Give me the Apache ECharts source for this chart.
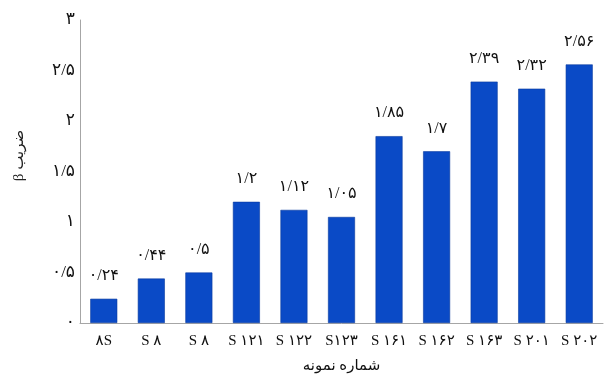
<!DOCTYPE html>
<html>
<head>
<meta charset="utf-8">
<script src="https://cdn.jsdelivr.net/npm/echarts@6/dist/echarts.min.js"></script>
<style>
  html, body { margin: 0; padding: 0; background: #fff; }
  #chart { width: 616px; height: 378px; }
</style>
</head>
<body>
<div id="chart"></div>
<script>
// Sample identifiers along the horizontal axis
const categories = ['۸S', 'S ۸', 'S ۸', 'S ۱۲۱', 'S ۱۲۲', 'S۱۲۳', 'S ۱۶۱', 'S ۱۶۲', 'S ۱۶۳', 'S ۲۰۱', 'S ۲۰۲'];
// β coefficient for each sample
const betaValues = [0.24, 0.44, 0.5, 1.2, 1.12, 1.05, 1.85, 1.7, 2.39, 2.32, 2.56];
// Value axis ticks
const yTicks = [0, 0.5, 1, 1.5, 2, 2.5, 3];

const xAxisTitle = 'شماره نمونه';
const yAxisTitle = 'β ضریب';

const FONT = "'Liberation Serif', 'DejaVu Sans', serif";

// Persian digits with "/" as the decimal separator
function toPersian(v) {
  const digits = '۰۱۲۳۴۵۶۷۸۹';
  return String(v).replace('.', '/').replace(/[0-9]/g, d => digits[+d]);
}

const chart = echarts.init(document.getElementById('chart'), null, { renderer: 'canvas' });
chart.setOption({
  animation: false,
  backgroundColor: '#ffffff',
  grid: { left: 80, right: 13, top: 20, bottom: 55, containLabel: false, outerBoundsMode: 'none' },
  xAxis: {
    type: 'category',
    data: categories,
    name: xAxisTitle,
    nameLocation: 'middle',
    nameGap: 36,
    nameTextStyle: { fontFamily: FONT, fontSize: 15, color: '#111' },
    axisLine: { lineStyle: { color: '#a6a6a6', width: 1 } },
    axisTick: { show: false },
    axisLabel: { fontFamily: FONT, fontSize: 15, color: '#111', margin: 11, interval: 0 }
  },
  yAxis: {
    type: 'value',
    min: yTicks[0],
    max: yTicks[yTicks.length - 1],
    interval: 0.5,
    name: yAxisTitle,
    nameLocation: 'middle',
    nameGap: 53,
    nameRotate: 90,
    nameTextStyle: { fontFamily: FONT, fontSize: 15, color: '#222', padding: [0, 0, 0, 32] },
    axisLine: { show: true, lineStyle: { color: '#a6a6a6', width: 1 } },
    axisTick: { show: false },
    splitLine: { show: false },
    axisLabel: {
      fontFamily: FONT, fontSize: 17, color: '#111', margin: 5,
      formatter: v => toPersian(v)
    }
  },
  series: [{
    type: 'bar',
    data: betaValues,
    barWidth: 27,
    itemStyle: { color: '#0a4ac6', borderColor: '#0a3a9e', borderWidth: 0.6 },
    label: {
      show: true,
      position: 'top',
      distance: 15,
      fontFamily: FONT,
      fontSize: 16,
      color: '#111',
      formatter: p => toPersian(p.value)
    }
  }]
});
</script>
</body>
</html>
